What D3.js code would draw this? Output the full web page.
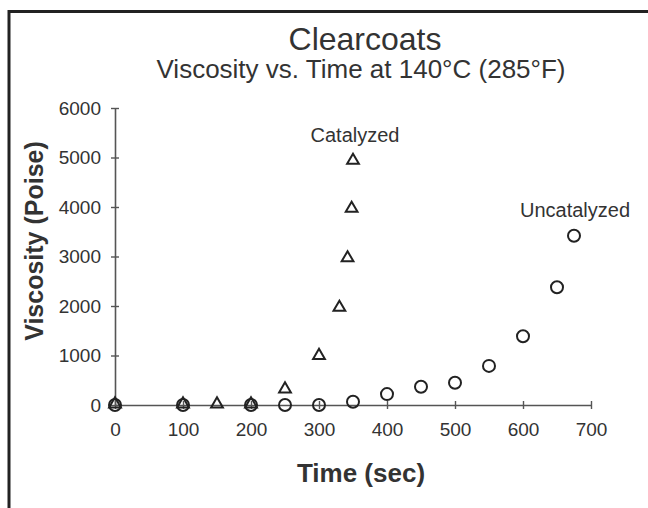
<!DOCTYPE html>
<html>
<head>
<meta charset="utf-8">
<script src="https://cdn.jsdelivr.net/npm/d3@7"></script>
<style>
  body { margin: 0; background: #fff; }
  text { font-family: "Liberation Sans", Arial, sans-serif; fill: #333; }
</style>
</head>
<body>
<div id="chart"></div>
<script>
// Catalyzed clearcoat (triangles)
var catTime = [0, 100, 150, 200, 250, 300, 330, 342, 348, 350];
var catVisc = [0, 0, 0, 0, 300, 980, 1950, 2950, 3950, 4920];

// Uncatalyzed clearcoat (circles)
var uncTime = [0, 100, 200, 250, 300, 350, 400, 450, 500, 550, 600, 650, 675];
var uncVisc = [0, 0, 0, 0, 0, 65, 220, 370, 450, 790, 1390, 2380, 3420];

var xTicks = [0, 100, 200, 300, 400, 500, 600, 700];
var yTicks = [0, 1000, 2000, 3000, 4000, 5000, 6000];

var width = 648,
    height = 508;

var svg = d3.select('#chart').append('svg')
    .attr('width', width)
    .attr('height', height);

svg.append('rect')
    .attr('width', width)
    .attr('height', height)
    .attr('fill', '#fff');

// frame (only top and left edges show in the crop)
svg.append('path')
    .attr('d', 'M9,' + height + 'V11.5H' + width)
    .attr('fill', 'none')
    .attr('stroke', '#222')
    .attr('stroke-width', 3);

var x = d3.scaleLinear().domain([0, 700]).range([115, 591]);
var y = d3.scaleLinear().domain([0, 6000]).range([405, 108]);

// titles
svg.append('text')
    .attr('x', 365).attr('y', 50)
    .attr('text-anchor', 'middle')
    .style('font-size', '32px')
    .text('Clearcoats');
svg.append('text')
    .attr('x', 361).attr('y', 78)
    .attr('text-anchor', 'middle')
    .style('font-size', '26px')
    .text('Viscosity vs. Time at 140°C (285°F)');

// axes
var xAxis = d3.axisBottom(x).tickValues(xTicks).tickFormat(d3.format('d'))
    .tickSizeInner(4).tickSizeOuter(0).tickPadding(14);
var yAxis = d3.axisLeft(y).tickValues(yTicks).tickFormat(d3.format('d'))
    .tickSizeInner(4).tickSizeOuter(0).tickPadding(10);

var gx = svg.append('g')
    .attr('transform', 'translate(0,' + y(0) + ')')
    .call(xAxis);
var gy = svg.append('g')
    .attr('transform', 'translate(' + x(0) + ',0)')
    .call(yAxis);

[gx, gy].forEach(function (g) {
    g.select('.domain').attr('stroke', '#555').attr('stroke-width', 1.6);
    g.selectAll('.tick line').attr('stroke', '#555').attr('stroke-width', 1.4);
    g.selectAll('.tick text')
        .style('font-size', '19px')
        .style('font-family', '"Liberation Sans", Arial, sans-serif')
        .attr('fill', '#444');
});
// ticks cross the axis line
gx.selectAll('.tick line').attr('y1', -4);
gy.selectAll('.tick line').attr('x1', 4);

// axis titles
svg.append('text')
    .attr('x', 361).attr('y', 482)
    .attr('text-anchor', 'middle')
    .style('font-size', '26px')
    .style('font-weight', 'bold')
    .text('Time (sec)');
svg.append('text')
    .attr('transform', 'translate(43,241) rotate(-90)')
    .attr('text-anchor', 'middle')
    .style('font-size', '25px')
    .style('font-weight', 'bold')
    .text('Viscosity (Poise)');

// uncatalyzed circles
var uncData = uncTime.map(function (t, i) { return [t, uncVisc[i]]; });
svg.selectAll('circle.unc')
    .data(uncData)
    .enter()
    .append('circle')
    .attr('class', 'unc')
    .attr('cx', function (d) { return x(d[0]); })
    .attr('cy', function (d) { return y(d[1]); })
    .attr('r', 6)
    .attr('fill', 'none')
    .attr('stroke', '#222')
    .attr('stroke-width', 2);

// catalyzed triangles
var catData = catTime.map(function (t, i) { return [t, catVisc[i]]; });
var tri = d3.symbol().type(d3.symbolTriangle).size(60);
svg.selectAll('path.cat')
    .data(catData)
    .enter()
    .append('path')
    .attr('class', 'cat')
    .attr('d', tri)
    .attr('transform', function (d) { return 'translate(' + x(d[0]) + ',' + (y(d[1]) - 1) + ')'; })
    .attr('fill', 'none')
    .attr('stroke', '#222')
    .attr('stroke-width', 2);

// series labels
svg.append('text')
    .attr('x', 355).attr('y', 142)
    .attr('text-anchor', 'middle')
    .style('font-size', '20px')
    .text('Catalyzed');
svg.append('text')
    .attr('x', 575).attr('y', 217)
    .attr('text-anchor', 'middle')
    .style('font-size', '20px')
    .text('Uncatalyzed');
</script>
</body>
</html>
